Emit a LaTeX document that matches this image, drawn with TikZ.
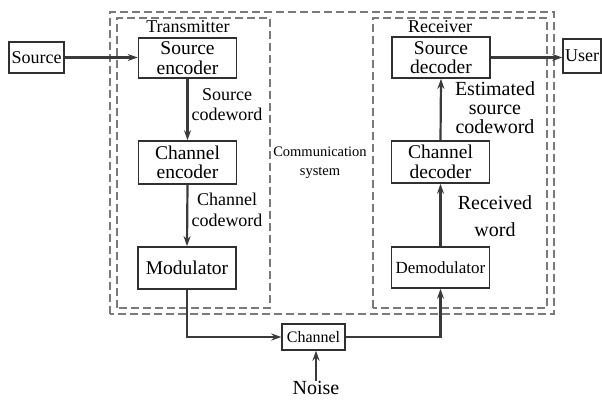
\documentclass[tikz,border=0pt]{standalone}
\usepackage{fontspec}
\setmainfont{Liberation Serif}
\usetikzlibrary{arrows.meta}
\definecolor{boxgray}{HTML}{303030}
\definecolor{linegray}{HTML}{3A3A3A}
\definecolor{dashgray}{HTML}{7A7A7A}
\begin{document}
\begin{tikzpicture}[x=1pt,y=1pt,
  blockbox/.style={draw=boxgray, line width=1.6pt, minimum width=98pt, minimum height=42pt, inner sep=0pt, align=center, font=\fontsize{19.5}{19.5}\selectfont},
  smallbox/.style={draw=boxgray, line width=1.4pt, inner sep=0pt, align=center},
  grp/.style={draw=dashgray, line width=1.3pt, dash pattern=on 8pt off 4pt},
  conn/.style={draw=linegray, line width=2.2pt, -{Stealth[length=10pt,width=7pt]}},
  lbl/.style={align=center, inner sep=0pt}
]
\useasboundingbox (0,0) rectangle (602,400);
% group frames
\draw[grp] (110,86) rectangle (554,388);
\draw[grp] (117,92) rectangle (270,382);
\draw[grp] (373,92) rectangle (547,382);
% blocks
\node[smallbox, minimum width=55pt, minimum height=31pt, font=\fontsize{18}{18}\selectfont] (src) at (36.5,342.5) {Source};
\node[blockbox, minimum height=40pt] (senc) at (187.5,342) {Source\\encoder};
\node[blockbox, minimum height=43pt] (cenc) at (187.5,237.5) {Channel\\encoder};
\node[blockbox] (mod) at (187,132) {Modulator};
\node[blockbox, minimum height=41pt] (sdec) at (441,342.5) {Source\\decoder};
\node[blockbox] (cdec) at (440.5,238) {Channel\\decoder};
\node[blockbox, minimum height=41pt, font=\fontsize{17}{18}\selectfont] (demod) at (440.5,132.5) {Demodulator};
\node[smallbox, minimum width=38pt, minimum height=34pt, font=\fontsize{18}{18}\selectfont] (user) at (582,344) {User};
\node[smallbox, minimum width=63pt, minimum height=26pt, font=\fontsize{16}{18}\selectfont] (chan) at (313.5,63) {Channel};
\node[lbl, font=\fontsize{20}{20}\selectfont] (noise) at (316,12.5) {Noise};
% labels
\node[lbl, font=\fontsize{18}{18}\selectfont] (tx) at (188,373) {Transmitter};
\node[lbl, font=\fontsize{18}{18}\selectfont] (rx) at (440,373) {Receiver};
\node[lbl, font=\fontsize{18}{20.5}\selectfont] (scw) at (227,295.5) {Source\\codeword};
\node[lbl, font=\fontsize{18}{20.5}\selectfont] (ccw) at (227,190) {Channel\\codeword};
\node[lbl, font=\fontsize{20}{19}\selectfont] (escw) at (495,292) {Estimated\\source\\codeword};
\node[lbl, font=\fontsize{20}{27}\selectfont] (rw) at (495,183.5) {Received\\word};
\node[lbl, font=\fontsize{14.5}{19}\selectfont] (cs) at (320,237.5) {Communication\\system};
% connectors
\draw[conn] (src.east) -- (senc.west|-src.east);
\draw[conn] (senc.south) -- (cenc.north);
\draw[conn] (cenc.south) -- (mod.north);
\draw[conn] (mod.south) |- (chan.west);
\draw[conn] (chan.east) -| (demod.south);
\draw[conn] (noise.north) -- (chan.south-|noise.north);
\draw[conn] (demod.north) -- (cdec.south);
\draw[conn] (cdec.north) -- (sdec.south);
\draw[conn] (sdec.east) -- (user.west|-sdec.east);
\end{tikzpicture}
\end{document}
